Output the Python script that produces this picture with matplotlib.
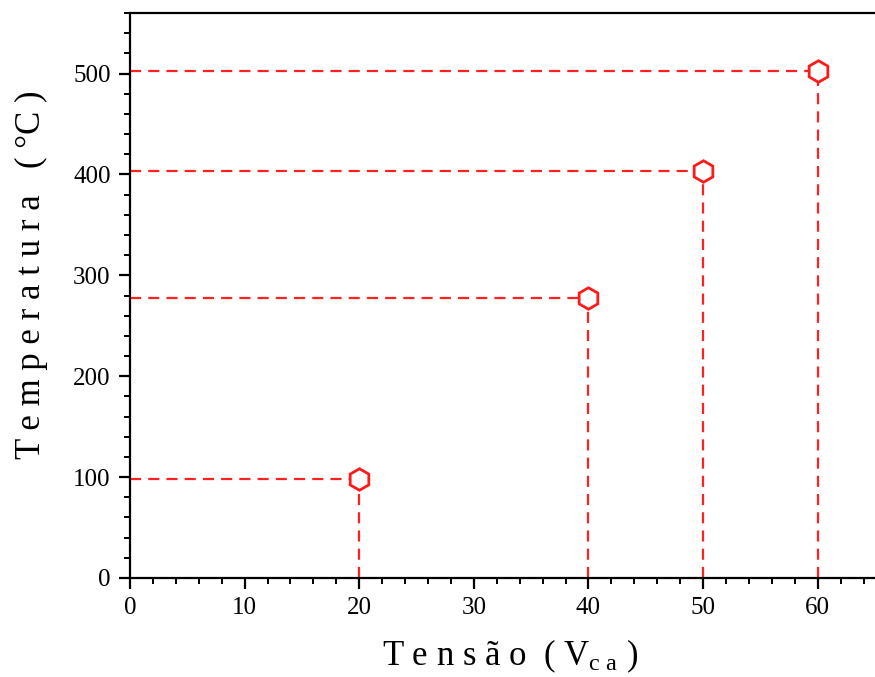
import matplotlib
matplotlib.use("Agg")
import matplotlib.pyplot as plt
from matplotlib.ticker import MultipleLocator

voltage = [20, 40, 50, 60]
temperature = [98, 278, 403, 503]
x_ticks = [0, 10, 20, 30, 40, 50, 60]
y_ticks = [0, 100, 200, 300, 400, 500]

plt.rcParams['font.family'] = ['Liberation Serif', 'DejaVu Serif']
plt.rcParams['mathtext.fontset'] = 'custom'
plt.rcParams['mathtext.rm'] = 'Liberation Serif'
plt.rcParams['mathtext.it'] = 'Liberation Serif'

fig = plt.figure(figsize=(8.75, 6.77), dpi=100)
ax = fig.add_axes([130/875, 1 - 578/677, 1 - 130/875, (578 - 13)/677])

for xv, yv in zip(voltage, temperature):
    ax.plot([0, xv], [yv, yv], color='#ff2020', lw=1.6, ls=(0, (5, 3.2)), zorder=2)
    ax.plot([xv, xv], [0, yv], color='#ff2020', lw=1.6, ls=(0, (5, 3.2)), zorder=2)

ax.plot(voltage, temperature, ls='none', marker='h', markersize=15.5,
        markerfacecolor='white', markeredgecolor='#ff1a1a', markeredgewidth=2.0, zorder=3)

ax.set_xlim(0, 65)
ax.set_ylim(0, 560)
ax.set_xticks(x_ticks)
ax.set_yticks(y_ticks)
ax.xaxis.set_minor_locator(MultipleLocator(2))
ax.yaxis.set_minor_locator(MultipleLocator(20))

ax.spines['right'].set_visible(False)
for s in ['left', 'bottom', 'top']:
    ax.spines[s].set_linewidth(1.6)

ax.tick_params(which='major', direction='out', length=8, width=1.6, labelsize=18, pad=6)
ax.tick_params(which='minor', direction='out', length=4, width=1.4)
ax.tick_params(top=False, right=False)

ax.set_xlabel('T e n s ã o  ( V$_{\\mathrm{c\\ a}}$ )', fontsize=25)
ax.set_ylabel('T e m p e r a t u r a   ( °C )', fontsize=25)
ax.xaxis.set_label_coords(0.51, -0.105)
ax.yaxis.set_label_coords(-0.11, 0.536)

fig.savefig('out.png', dpi=100)
